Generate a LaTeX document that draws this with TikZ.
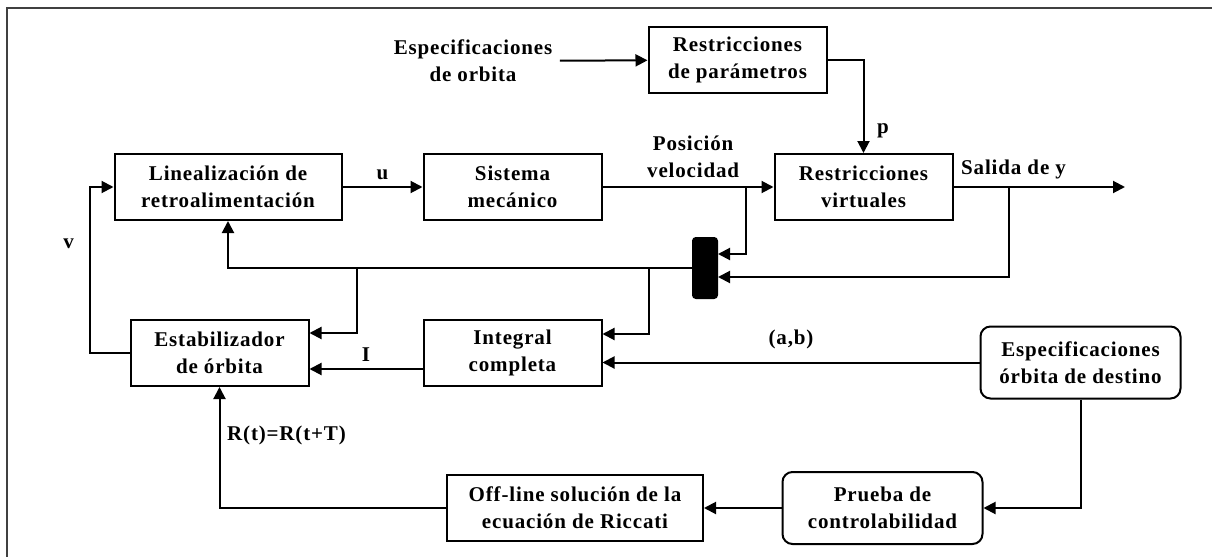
\documentclass[tikz,border=0pt]{standalone}
\usepackage{fontspec}
\setmainfont{Liberation Serif}[LetterSpace=4]
\usetikzlibrary{arrows.meta, positioning, calc}

\begin{document}
\begin{tikzpicture}[x=0.5pt, y=0.5pt, line width=1pt, >={Triangle[length=6pt,width=6pt]},
		every node/.style={font=\fontsize{10.5}{13.5}\selectfont\bfseries, align=center},
		bloque/.style={draw, rectangle, minimum width=89pt, minimum height=33pt, inner sep=2pt},
		redondo/.style={bloque, rounded corners=5pt, minimum width=100pt, minimum height=36pt},
		barra/.style={draw, fill=black, rounded corners=1.5pt, minimum width=12pt, minimum height=30pt, inner sep=0pt}]
	\useasboundingbox (0,0) rectangle (1212,-557);
	\draw[black!75] (7,-557) -- (7,-8) -- (1212,-8);
	% bloques
	\node[bloque, minimum width=113.5pt] (lin) at (228,-187) {Linealización de\\retroalimentación};
	\node[bloque, right=40pt of lin] (sis) {Sistema\\mecánico};
	\node[bloque, right=85.5pt of sis] (rvir) {Restricciones\\virtuales};
	\node[bloque] (rpar) at (737.5,-60) {Restricciones\\de parámetros};
	\node (espo) at (473,-61) {Especificaciones\\de orbita};
	\node[bloque, below=49pt of sis] (int) {Integral\\completa};
	\node[bloque, left=56.5pt of int] (est) {Estabilizador\\de órbita};
	\node[redondo] (espd) at (1080.5,-362.5) {Especificaciones\\órbita de destino};
	\node[redondo] (prueba) at (882.5,-508) {Prueba de\\controlabilidad};
	\node[bloque, minimum width=128pt, left=38.75pt of prueba] (off) {Off-line solución de la\\ecuación de Riccati};
	\node[barra] (bar) at (705,-268) {};
	% derivaciones
	\coordinate (pv) at (746,-187);
	\coordinate (yt) at (1009,-187);
	\coordinate (yfin) at (1125,-187);
	\coordinate (t1) at (357,-268);
	\coordinate (t2) at (649,-268);
	% conexiones
	\draw[->] (espo) -- (rpar);
	\draw[->] (rpar) -| (rvir) node[pos=0.88, right=3pt] {p};
	\draw[->] (lin) -- (sis) node[midway, above] {u};
	\draw[->] (sis) -- (rvir) node[pos=0.53, above=1pt] {Posición\\velocidad};
	\draw[->] (rvir) -- (yfin) node[pos=0, anchor=south west] {Salida de y};
	\draw[->] (yt) |- ([yshift=-4.5pt]bar.east);
	\draw[->] (pv) |- ([yshift=7pt]bar.east);
	\draw[->] (bar) -| (lin);
	\draw[->] (t1) |- ([yshift=10pt]est.east);
	\draw[->] (t2) |- ([yshift=9.5pt]int.east);
	\draw[->] ([yshift=-8pt]int.west) -- ([yshift=-8pt]est.east) node[midway, above] {I};
	\draw[->] (espd) -- (espd -| int.east) node[midway, above=3pt] {(a,b)};
	\draw[->] (espd) |- (prueba);
	\draw[->] (prueba) -- (off);
	\draw[->] (off) -| (est) node[pos=0.8, right] {R(t)=R(t+T)};
	\draw[->] (est.west) -- ++(-20pt,0) |- (lin.west) node[pos=0.33, left=4pt] {v};
\end{tikzpicture}
\end{document}
